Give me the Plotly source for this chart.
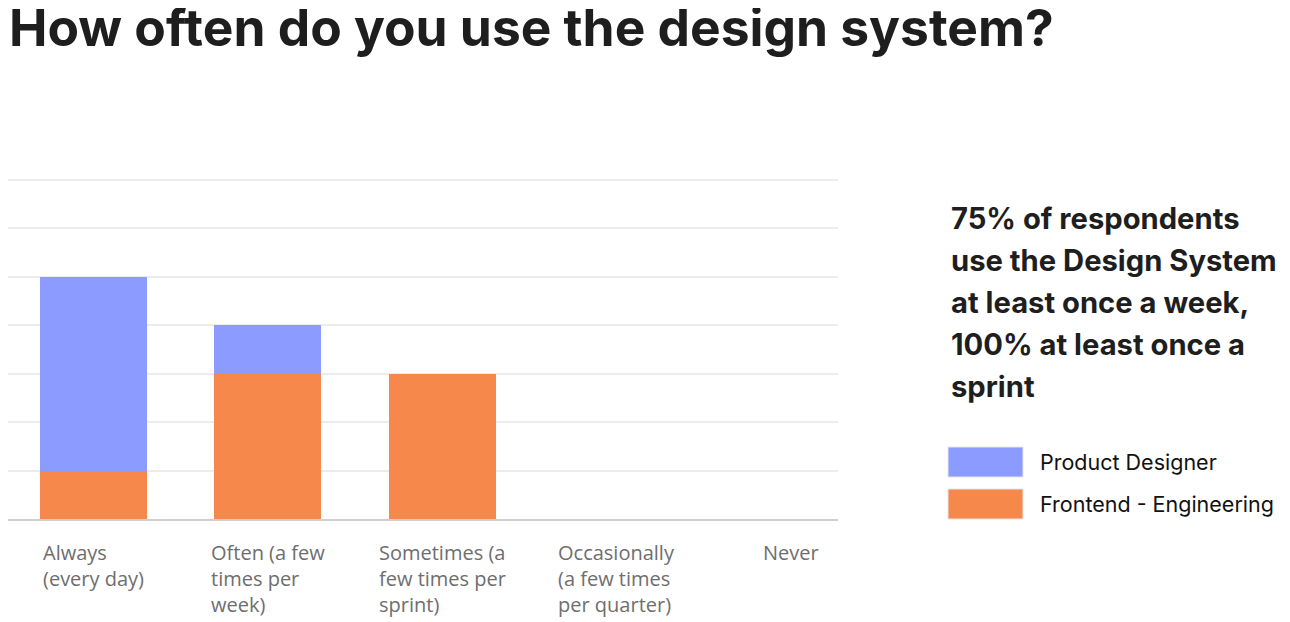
import plotly.graph_objects as go

# survey answers (category axis) and counts per role
categories = ["Always", "Often", "Sometimes", "Occasionally", "Never"]
tick_labels = [
    "Always<br>(every day)",
    "Often (a few<br>times per<br>week)",
    "Sometimes (a<br>few times per<br>sprint)",
    "Occasionally<br>(a few times<br>per quarter)",
    "Never",
]
frontend = [1, 3, 3, 0, 0]
designer = [4, 1, 0, 0, 0]

series_names = ["Product Designer", "Frontend - Engineering"]
series_colors = ["#8c9bff", "#f5884a"]

callout = [
    "75% of respondents",
    "use the Design System",
    "at least once a week,",
    "100% at least once a",
    "sprint",
]

# page body has an 8px margin, so the figure is drawn 8px in
OFF = 8
YTOP = 7.1
W, H = 1290 - OFF, 622 - OFF
L, R, B = 0, 838 - OFF, 519 - OFF
T = round(B - (519 - 180) / 7 * YTOP)


def px(x):
    return (x - OFF - L) / (R - L)


def py(y):
    return (B - (y - OFF)) / (B - T)


fig = go.Figure()
fig.add_trace(go.Bar(x=categories, y=frontend, name=series_names[1],
                     marker=dict(color=series_colors[1], line=dict(width=0))))
fig.add_trace(go.Bar(x=categories, y=designer, name=series_names[0],
                     marker=dict(color=series_colors[0], line=dict(width=0))))

annotations = []
# category labels, left-aligned lines under each bar
for cat, lab in zip(categories, tick_labels):
    annotations.append(dict(
        x=cat, xref="x", y=0, yref="paper", yanchor="top", xanchor="center",
        yshift=-18, text=lab, showarrow=False, align="left",
        font=dict(family="Open Sans", size=20, color="#6e6e6e"),
    ))

# title
annotations.append(dict(
    x=px(OFF), y=py(27), xref="paper", yref="paper", xanchor="left", yanchor="middle",
    text="<b>How often do you use the design system?</b>", showarrow=False,
    borderpad=0, font=dict(family="Inter", size=51.5, color="#1e1e1e"),
))

# callout text on the right
for i, line in enumerate(callout):
    annotations.append(dict(
        x=px(949), y=py(218 + 42 * i), xref="paper", yref="paper",
        xanchor="left", yanchor="middle", text="<b>" + line + "</b>",
        showarrow=False, font=dict(family="Inter", size=29.2, color="#1e1e1e"),
    ))

# legend
shapes = []
for i, (name, col) in enumerate(zip(series_names, series_colors)):
    yc = 462 + 42 * i
    shapes.append(dict(
        type="rect", xref="paper", yref="paper",
        x0=px(948), x1=px(1023), y0=py(yc - 15), y1=py(yc + 15),
        fillcolor=col, line=dict(color="#e6e6e6", width=1),
    ))
    annotations.append(dict(
        x=px(1038), y=py(yc), xref="paper", yref="paper", xanchor="left",
        yanchor="middle", text=name, showarrow=False,
        font=dict(family="Inter", size=21.5, color="#111111"),
    ))

fig.update_layout(
    width=W, height=H, autosize=False,
    margin=dict(l=L, r=W - R, t=T, b=H - B, pad=0),
    barmode="stack", bargap=0.387,
    plot_bgcolor="white", paper_bgcolor="white",
    showlegend=False,
    annotations=annotations, shapes=shapes,
    xaxis=dict(range=[-0.49, 4.269], showticklabels=False, showgrid=False,
               showline=True, linecolor="#cfcfcf", linewidth=2, zeroline=False),
    yaxis=dict(range=[0, YTOP], tickvals=[1, 2, 3, 4, 5, 6, 7], showticklabels=False,
               gridcolor="#ececec", gridwidth=1.5, showline=True,
               linecolor="#e2e2e2", linewidth=2, zeroline=False),
)

fig.write_html("out.html")
